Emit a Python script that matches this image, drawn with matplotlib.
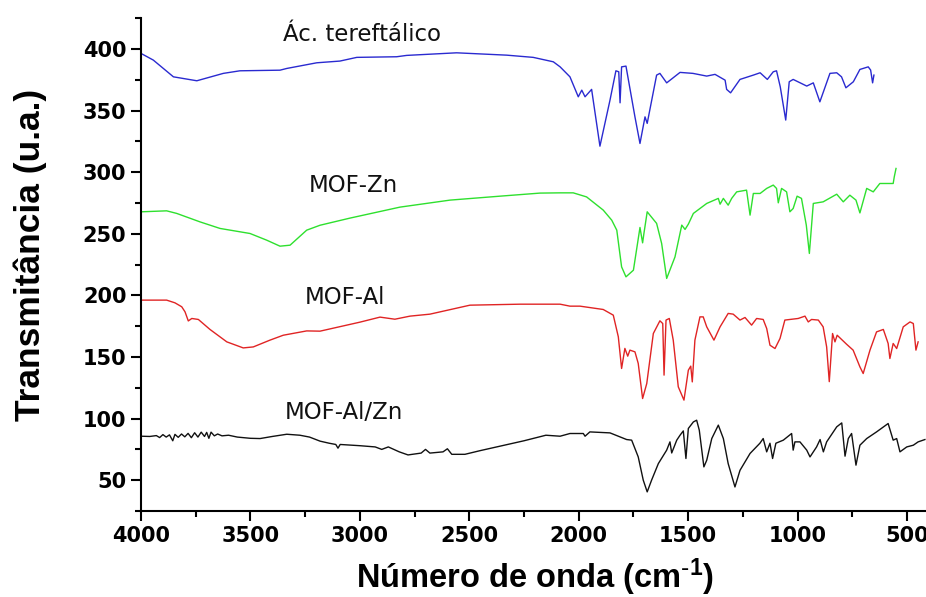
import matplotlib
matplotlib.use('Agg')
import matplotlib.pyplot as plt
from matplotlib.ticker import MultipleLocator

# FTIR spectra (wavenumber in cm-1, transmittance offset per sample)
acido_x = [4000, 3944, 3852, 3745, 3624, 3548, 3365, 3334, 3197, 3091, 3014,
           2832, 2786, 2558, 2329, 2208, 2116, 2085, 2040, 2002, 1986, 1971,
           1941, 1903, 1857, 1830, 1817, 1811, 1804, 1784, 1743, 1720, 1697,
           1687, 1644, 1629, 1598, 1537, 1478, 1415, 1377, 1331, 1324, 1306,
           1263, 1202, 1171, 1138, 1111, 1096, 1079, 1054, 1038, 1020, 958,
           928, 898, 852, 821, 799, 779, 745, 715, 677, 666, 657, 651]
acido_y = [396.5, 391.1, 377.5, 374.3, 380.3, 382.4, 382.9, 384.3, 388.9,
           390.3, 393.3, 393.8, 394.9, 397.0, 395.1, 393.3, 389.7, 385.6,
           377.5, 361.3, 366.7, 361.3, 367.3, 321.2, 358.6, 382.4, 381.6,
           356.4, 385.6, 386.2, 345.0, 323.4, 345.0, 339.7, 378.9, 380.3,
           372.6, 381.1, 380.3, 378.1, 379.5, 374.8, 367.3, 364.5, 375.4,
           378.9, 380.8, 375.4, 381.6, 382.4, 369.4, 342.4, 373.5, 375.4,
           370.0, 372.6, 357.2, 380.3, 380.8, 377.5, 368.6, 373.5, 383.5,
           385.6, 383.0, 372.6, 378.9]

zn_x = [4000, 3883, 3837, 3730, 3639, 3502, 3426, 3365, 3319, 3243, 3182,
        3045, 2817, 2588, 2360, 2177, 2085, 2025, 1964, 1888, 1849, 1826,
        1804, 1784, 1750, 1720, 1708, 1702, 1687, 1644, 1621, 1598, 1560,
        1529, 1514, 1499, 1476, 1415, 1362, 1354, 1339, 1317, 1301, 1278,
        1233, 1217, 1202, 1171, 1141, 1111, 1096, 1088, 1073, 1050, 1035,
        1020, 1002, 982, 960, 946, 928, 883, 821, 791, 761, 733, 715, 684,
        654, 624, 563, 558, 550]
zn_y = [267.9, 268.7, 266.6, 259.7, 254.4, 250.3, 244.9, 240.0, 240.8,
        253.0, 257.0, 262.8, 271.7, 277.4, 280.6, 283.1, 283.3, 283.3,
        280.0, 269.3, 261.1, 253.0, 223.2, 215.1, 220.5, 255.2, 242.7,
        250.3, 267.9, 258.5, 242.2, 213.8, 231.3, 257.1, 253.6, 257.9,
        266.6, 274.7, 278.8, 274.1, 278.8, 273.3, 278.8, 284.1, 285.5,
        265.2, 282.8, 282.8, 286.9, 289.6, 286.9, 275.2, 286.9, 284.1,
        267.9, 270.6, 280.6, 278.8, 257.1, 234.1, 274.7, 276.0, 282.2,
        276.0, 281.4, 277.4, 267.0, 286.9, 284.1, 290.9, 290.9, 296.3, 303.1]

al_x = [4000, 3883, 3845, 3814, 3799, 3784, 3768, 3738, 3685, 3608, 3533,
        3487, 3411, 3350, 3243, 3182, 3000, 2908, 2840, 2771, 2680, 2497,
        2268, 2085, 2040, 1994, 1888, 1842, 1819, 1804, 1789, 1776, 1766,
        1743, 1728, 1708, 1689, 1659, 1629, 1616, 1610, 1601, 1586, 1568,
        1545, 1519, 1499, 1488, 1481, 1469, 1446, 1431, 1415, 1382, 1354,
        1317, 1294, 1263, 1240, 1210, 1187, 1157, 1141, 1126, 1103, 1080,
        1058, 997, 966, 951, 936, 905, 883, 867, 855, 840, 829, 819, 776,
        746, 715, 700, 669, 639, 608, 586, 578, 563, 547, 517, 486, 471,
        459, 449]
al_y = [196.2, 196.2, 194.0, 190.8, 186.7, 179.3, 181.3, 180.5, 172.4,
        162.3, 157.4, 158.2, 163.7, 167.7, 171.2, 171.0, 178.3, 182.4,
        180.7, 183.2, 184.8, 192.1, 192.9, 192.9, 191.3, 191.3, 188.6,
        184.0, 166.4, 140.7, 157.0, 150.7, 155.6, 154.2, 144.8, 116.3,
        128.5, 169.1, 179.4, 177.2, 135.3, 180.0, 181.3, 163.7, 125.8,
        115.0, 139.3, 142.6, 129.8, 163.7, 182.6, 182.6, 174.5, 163.7,
        174.5, 185.4, 184.8, 180.0, 182.1, 175.9, 181.3, 180.5, 173.2,
        159.6, 156.9, 165.1, 180.0, 181.3, 183.2, 178.5, 180.5, 180.0,
        174.5, 158.2, 130.0, 169.1, 162.3, 167.7, 160.4, 155.6, 142.0,
        136.6, 155.6, 170.4, 172.4, 161.0, 148.8, 161.0, 156.9, 174.5,
        178.5, 177.2, 155.6, 162.3]

alzn_x = [4000, 3960, 3930, 3915, 3900, 3885, 3870, 3855, 3845, 3830, 3815,
          3800, 3785, 3770, 3755, 3740, 3725, 3710, 3700, 3690, 3680, 3665,
          3650, 3630, 3600, 3560, 3500, 3456, 3400, 3334, 3274, 3230, 3182,
          3140, 3110, 3100, 3090, 3000, 2930, 2900, 2870, 2820, 2780, 2720,
          2700, 2680, 2620, 2600, 2580, 2520, 2450, 2350, 2250, 2150, 2085,
          2040, 1979, 1971, 1949, 1857, 1781, 1758, 1728, 1705, 1687, 1667,
          1636, 1598, 1583, 1575, 1552, 1537, 1522, 1510, 1499, 1476, 1461,
          1449, 1428, 1415, 1392, 1362, 1339, 1317, 1286, 1263, 1217, 1172,
          1157, 1141, 1126, 1114, 1099, 1065, 1027, 1020, 1012, 989, 958,
          943, 913, 897, 882, 867, 821, 798, 783, 768, 753, 733, 715, 684,
          639, 586, 563, 547, 532, 501, 471, 449, 418]
alzn_y = [85.7, 85.5, 86.2, 84.6, 87.0, 85.0, 86.8, 82.0, 87.2, 84.8, 87.5,
          85.2, 88.0, 84.5, 88.5, 85.0, 89.0, 85.5, 88.8, 84.0, 89.0, 86.0,
          87.5, 86.0, 86.5, 85.0, 84.0, 83.8, 85.5, 87.3, 86.5, 85.0, 81.7,
          80.0, 79.0, 76.0, 79.0, 78.0, 77.0, 75.0, 77.0, 73.0, 70.5, 72.0,
          75.0, 72.0, 73.0, 75.5, 71.0, 71.0, 74.0, 78.0, 82.0, 86.5, 85.7,
          87.9, 87.9, 85.7, 89.2, 88.4, 83.0, 82.5, 68.9, 50.0, 40.5, 50.0,
          63.5, 74.4, 81.1, 72.1, 82.5, 86.5, 90.0, 67.6, 92.0, 97.3, 98.7,
          90.6, 60.8, 66.2, 83.8, 94.7, 83.8, 63.5, 44.5, 58.0, 71.7, 80.0,
          83.8, 73.0, 80.0, 67.6, 80.0, 82.5, 87.9, 74.4, 81.1, 81.1, 74.4,
          68.9, 77.0, 83.0, 73.0, 81.1, 93.3, 96.5, 69.5, 83.8, 87.9, 62.2,
          78.4, 83.8, 89.2, 96.0, 82.5, 83.8, 73.0, 77.0, 78.4, 81.1, 83.0]

names = ['Ác. tereftálico', 'MOF-Zn', 'MOF-Al', 'MOF-Al/Zn']
label_x = [2990, 3029, 3068, 3075]
label_y = [412, 289, 198.6, 105.2]

plt.rcParams['mathtext.fontset'] = 'custom'
plt.rcParams['mathtext.bf'] = 'Liberation Sans:bold'
plt.rcParams['mathtext.default'] = 'bf'

fig = plt.figure(figsize=(9.26, 5.97), dpi=100)
ax = fig.add_axes([0.1523, 0.1441, 0.8477, 0.8252])

series = [(acido_x, acido_y, '#2a2ad0'), (zn_x, zn_y, '#2ee02e'),
          (al_x, al_y, '#e02424'), (alzn_x, alzn_y, '#111111')]
for xs, ys, color in series:
    ax.plot(xs, ys, color=color, linewidth=1.0)

for name, lx, ly in zip(names, label_x, label_y):
    ax.text(lx, ly, name, ha='center', va='center', fontsize=16.5,
            family='DejaVu Sans', color='#111111')

ax.set_xlim(4000, 413)
ax.set_ylim(25, 425)
ax.xaxis.set_major_locator(MultipleLocator(500))
ax.xaxis.set_minor_locator(MultipleLocator(250))
ax.yaxis.set_major_locator(MultipleLocator(50))
ax.yaxis.set_minor_locator(MultipleLocator(25))

ax.spines['top'].set_visible(False)
ax.spines['right'].set_visible(False)
for side in ['left', 'bottom']:
    ax.spines[side].set_linewidth(1.5)
ax.tick_params(which='major', direction='out', length=7, width=1.5,
               labelsize=15)
ax.tick_params(which='minor', direction='out', length=4, width=1.5)
for lbl in ax.get_xticklabels() + ax.get_yticklabels():
    lbl.set_fontweight('bold')
    lbl.set_family('DejaVu Sans')

ax.set_xlabel(r'Número de onda (cm$^{\text{-}1}$)', fontsize=23.5,
              fontweight='bold', family='Liberation Sans', va='center')
ax.xaxis.set_label_coords(0.502, -0.134)
ax.set_ylabel('Transmitância (u.a.)', fontsize=25.5, fontweight='bold',
              family='Liberation Sans', va='center')
ax.yaxis.set_label_coords(-0.141, 0.52)

fig.savefig('out.png', dpi=100)
